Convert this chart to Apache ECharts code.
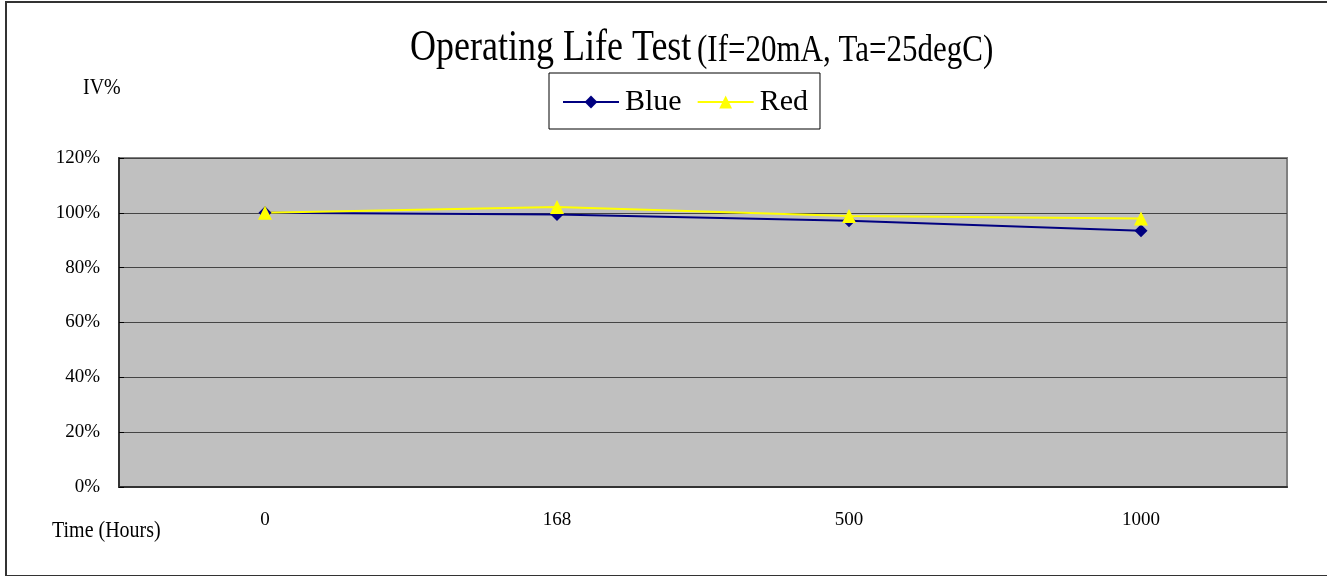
<!DOCTYPE html>
<html>
<head>
<meta charset="utf-8">
<script src="https://cdn.jsdelivr.net/npm/echarts@6/dist/echarts.min.js"></script>
<style>
  html, body { margin: 0; padding: 0; background: #fff; }
  #main { width: 1327px; height: 576px; }
  #frame { position: absolute; left: 5px; top: 1px; width: 1320px; height: 572px;
           border: 2px solid #333; border-right-color: #ddd; pointer-events: none; }
</style>
</head>
<body>
<div id="main"></div>
<div id="frame"></div>
<script>
var hours = ['0', '168', '500', '1000'];
var blueVals = [100, 99.4, 97.1, 93.5];
var redVals = [100, 102.1, 98.8, 97.9];
var serif = '"Liberation Serif", "DejaVu Serif", serif';

var myChart = echarts.init(document.getElementById('main'));
// text in the original looks stretched vertically, so scaleY on the graphic texts
var option = {
    animation: false,
    backgroundColor: '#fff',
    legend: {
        left: 549,
        top: 73,
        padding: [14, 12, 12, 13],
        itemGap: 15,
        itemWidth: 56,
        itemHeight: 16,
        backgroundColor: '#fff',
        borderColor: '#000',
        borderWidth: 1,
        textStyle: { fontFamily: serif, fontSize: 30, color: '#000', padding: [0, 0, 0, 1] },
        data: ['Blue', 'Red']
    },
    graphic: [
        { type: 'text', x: 410, y: 71, scaleY: 1.24,
          style: { text: 'Operating Life Test', font: '36px ' + serif, fill: '#000', verticalAlign: 'bottom' } },
        { type: 'text', x: 697, y: 70, scaleY: 1.22,
          style: { text: '(If=20mA, Ta=25degC)', font: '31px ' + serif, fill: '#000', verticalAlign: 'bottom' } },
        { type: 'text', x: 83, y: 99, scaleY: 1.15,
          style: { text: 'IV%', font: '20px ' + serif, fill: '#000', verticalAlign: 'bottom' } },
        { type: 'text', x: 52, y: 542, scaleY: 1.15,
          style: { text: 'Time (Hours)', font: '20px ' + serif, fill: '#000', verticalAlign: 'bottom' } }
    ],
    grid: {
        left: 119,
        top: 158,
        right: 40,
        bottom: 89,
        show: true,
        backgroundColor: '#c0c0c0',
        borderColor: '#808080',
        borderWidth: 2
    },
    xAxis: {
        type: 'category',
        data: hours,
        boundaryGap: true,
        axisLine: { lineStyle: { color: '#333', width: 2 } },
        axisTick: { inside: true, length: 6, lineStyle: { color: '#000' } },
        axisLabel: { margin: 24, fontFamily: serif, fontSize: 19, color: '#000' }
    },
    yAxis: {
        type: 'value',
        min: 0,
        max: 120,
        interval: 20,
        axisLine: { show: true, lineStyle: { color: '#333', width: 2 } },
        axisTick: { show: true, inside: true, length: 5, lineStyle: { color: '#000' } },
        axisLabel: { formatter: '{value}%', margin: 19, padding: [6, 0, 0, 0],
                     fontFamily: serif, fontSize: 19, color: '#000' },
        splitLine: { lineStyle: { color: '#444', width: 1 } }
    },
    series: [
        {
            name: 'Blue',
            type: 'line',
            data: blueVals,
            symbol: 'diamond',
            symbolSize: 13,
            color: '#000080',
            lineStyle: { width: 2 }
        },
        {
            name: 'Red',
            type: 'line',
            data: redVals,
            symbol: 'triangle',
            symbolSize: 14,
            color: '#ffff00',
            lineStyle: { width: 2 }
        }
    ]
};
myChart.setOption(option);
</script>
</body>
</html>
